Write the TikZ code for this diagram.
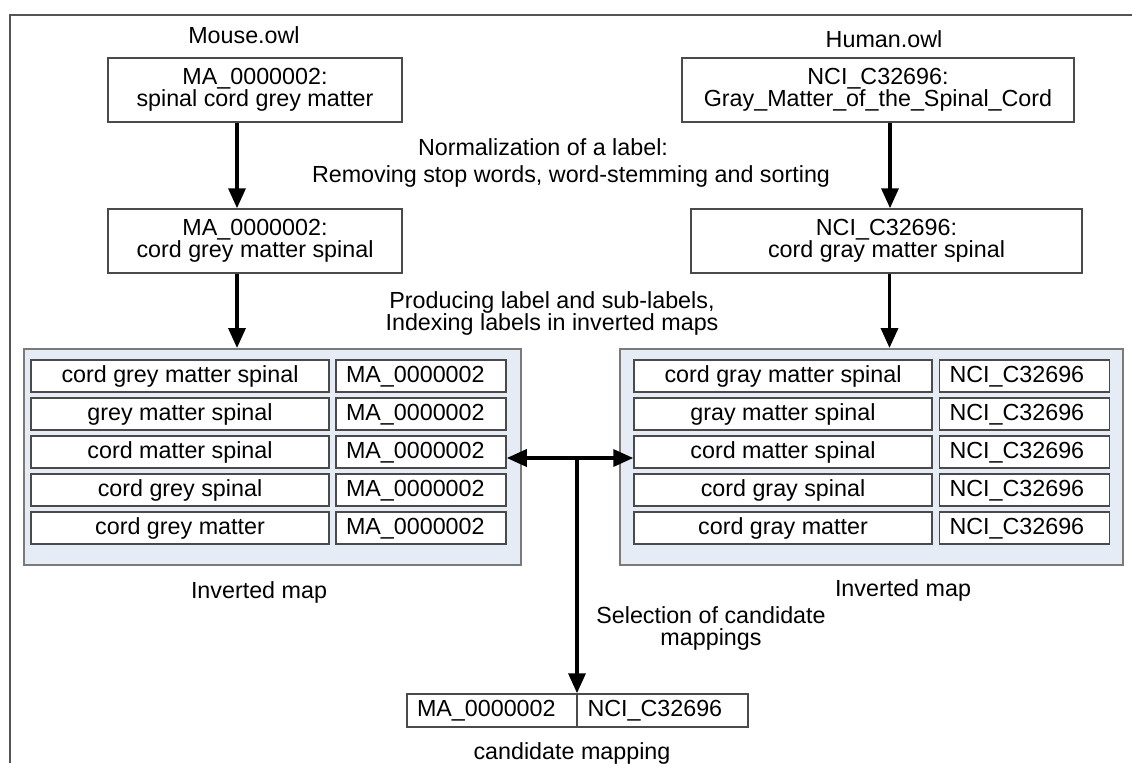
\documentclass[tikz,border=0pt]{standalone}
\usepackage{fontspec}
\setmainfont{Liberation Sans}
\usetikzlibrary{arrows.meta}
\definecolor{framegray}{HTML}{555555}
\definecolor{boxgray}{HTML}{4A4A4A}
\definecolor{mapfill}{HTML}{E6ECF6}
\definecolor{mapborder}{HTML}{7A7A7A}
\begin{document}
\begin{tikzpicture}[x=1pt,y=-1pt,
  every node/.style={font=\fontsize{23.3}{22}\selectfont, inner sep=0pt},
  box/.style={draw=boxgray, line width=1.5pt, fill=white, align=center},
  cell/.style={draw=boxgray, line width=1.5pt, fill=white, minimum height=32pt, text height=17pt, text depth=5pt},
  lcell/.style={cell, minimum width=298pt},
  rcell/.style={cell, minimum width=170pt, text width=150pt, align=left},
  mapbox/.style={draw=mapborder, line width=2pt, fill=mapfill},
  tip/.tip={Triangle[length=20pt,width=17pt]},
  flow/.style={line width=3.5pt, -tip},
  biflow/.style={line width=3.5pt, tip-tip}
]
\useasboundingbox (0,0) rectangle (1132,763);
\draw[framegray, line width=2pt] (10,763) -- (10,15) -- (1132,15);

% titles
\node (mouse) at (244,35) {Mouse.owl};
\node (human) at (884,39) {Human.owl};

% label boxes
\node[box, minimum width=294pt, minimum height=64pt] (m1) at (255,90) {MA\_0000002:\\spinal cord grey matter};
\node[box, minimum width=294pt, minimum height=64pt] (m2) at (255,241) {MA\_0000002:\\cord grey matter spinal};
\node[box, minimum width=392pt, minimum height=64pt] (h1) at (878,90) {NCI\_C32696:\\ Gray\_Matter\_of\_the\_Spinal\_Cord};
\node[box, minimum width=391pt, minimum height=64pt] (h2) at (886.5,241) {NCI\_C32696:\\cord gray matter spinal};

% step labels
\node (norm1) at (543,147) {Normalization of a label:};
\node (norm2) at (571,176) {Removing stop words, word-stemming and sorting};
\node[align=center] (prod) at (552,313) {Producing label and sub-labels,\\Indexing labels in inverted maps};

% inverted maps
\node[mapbox, minimum width=497pt, minimum height=216pt] (lmap) at (272.5,457) {};
\node[mapbox, minimum width=503pt, minimum height=216pt] (rmap) at (871.5,457) {};

\node[lcell] (la1) at (180,376) {cord grey matter spinal};
\node[lcell] (la2) at (180,414) {grey matter spinal};
\node[lcell] (la3) at (180,452) {cord matter spinal};
\node[lcell] (la4) at (180,490) {cord grey spinal};
\node[lcell] (la5) at (180,528) {cord grey matter};
\node[rcell] (lb1) at (421,376) {MA\_0000002};
\node[rcell] (lb2) at (421,414) {MA\_0000002};
\node[rcell] (lb3) at (421,452) {MA\_0000002};
\node[rcell] (lb4) at (421,490) {MA\_0000002};
\node[rcell] (lb5) at (421,528) {MA\_0000002};

\node[lcell] (ra1) at (783,376) {cord gray matter spinal};
\node[lcell] (ra2) at (783,414) {gray matter spinal};
\node[lcell] (ra3) at (783,452) {cord matter spinal};
\node[lcell] (ra4) at (783,490) {cord gray spinal};
\node[lcell] (ra5) at (783,528) {cord gray matter};
\node[rcell] (rb1) at (1024.5,376) {NCI\_C32696};
\node[rcell] (rb2) at (1024.5,414) {NCI\_C32696};
\node[rcell] (rb3) at (1024.5,452) {NCI\_C32696};
\node[rcell] (rb4) at (1024.5,490) {NCI\_C32696};
\node[rcell] (rb5) at (1024.5,528) {NCI\_C32696};

\node (inv1) at (259,592) {Inverted map};
\node (inv2) at (903,590) {Inverted map};

% candidate mapping
\node[align=center] (sel) at (711,628) {Selection of candidate\\mappings};
\node[rcell, minimum width=170pt, minimum height=33pt] (c1) at (492,710.5) {MA\_0000002};
\node[rcell, minimum width=171pt, minimum height=33pt] (c2) at (662.5,710.5) {NCI\_C32696};
\node (candlbl) at (572,753) {candidate mapping};

% connectors
\draw[flow] ([xshift=-18pt]m1.south) -- ([xshift=-18pt]m2.north);
\draw[flow] ([xshift=-18pt]m2.south) -- ([xshift=-18pt]m2.south |- lmap.north);
\draw[flow] ([xshift=12pt]h1.south) -- ([xshift=12pt]h1.south |- h2.north);
\draw[flow] ([xshift=3pt]h2.south) -- ([xshift=3pt]h2.south |- rmap.north);
\coordinate (j) at (577,458);
\draw[biflow] (lb3.east |- j) -- (ra3.west |- j);
\draw[flow] (j) -- (j |- c1.north);
\end{tikzpicture}
\end{document}
